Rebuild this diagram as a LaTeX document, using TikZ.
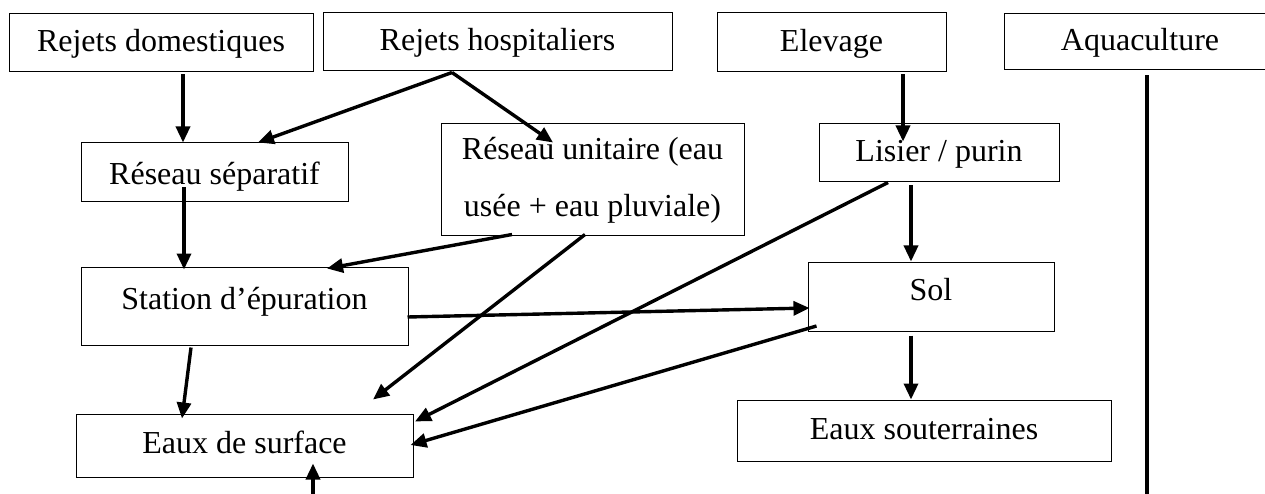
\documentclass[tikz,border=0pt]{standalone}
\usepackage{fontspec}
\setmainfont{Liberation Serif}
\usetikzlibrary{arrows.meta,calc}
\tikzset{
  box/.style={draw, line width=1pt, inner sep=0pt, font=\fontsize{32}{57}\selectfont,
    text height=25pt, text depth=7pt},
  tallbox/.style={draw, line width=1pt, inner sep=0pt, font=\fontsize{32}{57}\selectfont, align=center},
  arr/.style={line width=3.4pt, -{Triangle[length=16pt,width=14pt]}},
  plain/.style={line width=3.4pt}
}
\begin{document}
\begin{tikzpicture}[x=1pt,y=-1pt]
\useasboundingbox (0,0) rectangle (1265,494);
\clip (0,0) rectangle (1265,494);
\fill[white] (0,0) rectangle (1265,494);
% boxes
\node[box, minimum width=304pt, minimum height=58pt] (rd) at (161,43) {Rejets domestiques};
\node[box, minimum width=349pt, minimum height=58pt] (rh) at (497.5,42) {Rejets hospitaliers};
\node[box, minimum width=229pt, minimum height=59pt] (el) at (831.5,42.5) {Elevage};
\node[box, minimum width=272pt, minimum height=56pt] (aq) at (1140,42) {Aquaculture};
\node[box, minimum width=267pt, minimum height=59pt] (rs) at (214.5,172.5) {\raisebox{-3pt}{Réseau séparatif}};
\node[tallbox, minimum width=303pt, minimum height=112pt] (ru) at (592.5,180) {Réseau unitaire (eau\\usée + eau pluviale)};
\node[box, minimum width=240pt, minimum height=58pt] (li) at (939,153) {Lisier / purin};
\node[box, minimum width=327pt, minimum height=78pt] (st) at (244.5,306) {\raisebox{6pt}{Station d’épuration}};
\node[box, minimum width=246pt, minimum height=69pt] (sol) at (931,296.5) {\raisebox{5pt}{Sol}};
\node[box, minimum width=337pt, minimum height=63pt] (es) at (244.5,445.5) {\raisebox{1pt}{Eaux de surface}};
\node[box, minimum width=374pt, minimum height=61pt] (eso) at (924,430.5) {Eaux souterraines};
% free ends
\coordinate (aqend) at (1147,500);
\coordinate (below) at (313,500);
% connectors
\draw[arr] ($(rd.south)+(22,2)$) -- ($(rs.north)+(-31.5,0)$);
\draw[arr] ($(rh.south)+(-45.5,1)$) -- ($(rs.north)+(43.5,0)$);
\draw[arr] ($(rh.south)+(-45.5,1)$) -- ($(ru.north)+(-39.5,19)$);
\draw[arr] ($(el.south)+(71.5,2)$) -- ($(li.north)+(-36,18)$);
\draw[arr] ($(rs.south)+(-30.5,-15)$) -- ($(st.north)+(-60.5,3)$);
\draw[arr] ($(ru.south)+(-80.5,-2)$) -- ($(st.north)+(82.5,2)$);
\draw[arr] ($(ru.south)+(-7.5,-2)$) -- ($(es.north)+(128.5,-14)$);
\draw[arr] ($(li.south)+(-51,0)$) -- ($(es.north)+(170.5,8)$);
\draw[arr] ($(li.south)+(-28,3)$) -- ($(sol.north)+(-20,0)$);
\draw[arr] ($(st.east)+(-1,11)$) -- ($(sol.west)+(2,11.5)$);
\draw[arr] ($(sol.west)+(9,29.5)$) -- ($(es.east)+(-3,-0.5)$);
\draw[arr] ($(st.south)+(-53.5,2)$) -- ($(es.north)+(-62.5,5)$);
\draw[arr] ($(sol.south)+(-20,4)$) -- ($(eso.north)+(-13,0)$);
\draw[plain] ($(aq.south)+(7,5)$) -- (aqend);
\draw[arr] (below) -- ($(es.south)+(68.5,-14)$);
\end{tikzpicture}
\end{document}
